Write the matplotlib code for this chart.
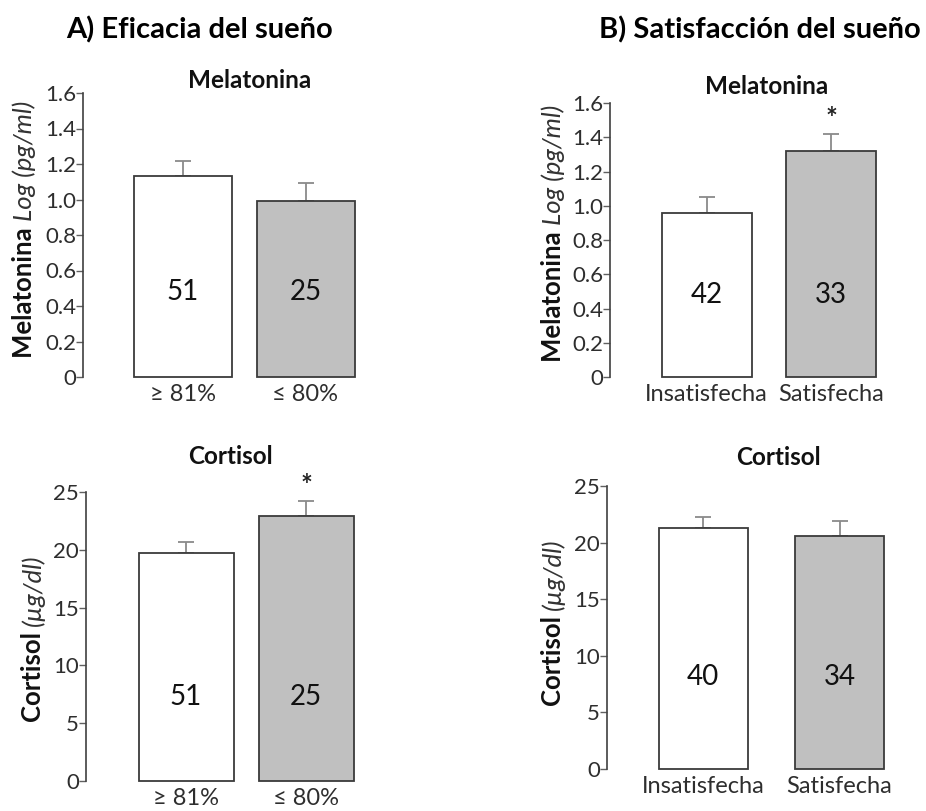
import matplotlib
matplotlib.use("Agg")
import matplotlib.pyplot as plt

plt.rcParams['font.family'] = ['Lato', 'DejaVu Sans']

W, H = 926, 811

# ---- data ----
eficacia_groups = ["\u2265 81%", "\u2264 80%"]
satisfaccion_groups = ["Insatisfecha", "Satisfecha"]

mel_eficacia = [1.13, 0.99]
mel_eficacia_err = [0.085, 0.105]
mel_eficacia_n = ["51", "25"]
mel_eficacia_sig = ["", ""]

cort_eficacia = [19.7, 22.95]
cort_eficacia_err = [1.0, 1.3]
cort_eficacia_n = ["51", "25"]
cort_eficacia_sig = ["", "*"]

mel_satisf = [0.96, 1.32]
mel_satisf_err = [0.09, 0.10]
mel_satisf_n = ["42", "33"]
mel_satisf_sig = ["", "*"]

cort_satisf = [21.3, 20.6]
cort_satisf_err = [1.0, 1.3]
cort_satisf_n = ["40", "34"]
cort_satisf_sig = ["", ""]

mel_ticks = [0, 0.2, 0.4, 0.6, 0.8, 1.0, 1.2, 1.4, 1.6]
mel_ticklabels = ["0", "0.2", "0.4", "0.6", "0.8", "1.0", "1.2", "1.4", "1.6"]
cort_ticks = [0, 5, 10, 15, 20, 25]
cort_ticklabels = ["0", "5", "10", "15", "20", "25"]

bar_colors = ["white", "#c0c0c0"]
edge = "#3a3a3a"
text_dark = "#2e2e2e"

fig = plt.figure(figsize=(W / 100, H / 100), dpi=100)


def make_axes(left, bottom, top, right, c1, c2):
    """Axes given in pixel coordinates; group centres c1, c2 map to x = 0, 1."""
    ax = fig.add_axes([left / W, 1 - bottom / H, (right - left) / W, (bottom - top) / H])
    span = c2 - c1
    ax.set_xlim((left - c1) / span, (right - c1) / span)
    return ax, span


def panel(ax, span, bar_px, groups, values, errs, ns, sigs, ymax, ticks, ticklabels,
          xlabel_pad, n_frac):
    x = [0, 1]
    width = bar_px / span
    ax.errorbar(x, values, yerr=[[0, 0], errs], fmt="none", ecolor="#8a8a8a",
                elinewidth=1.3, capsize=6, capthick=1.3, zorder=1)
    ax.bar(x, values, width=width, color=bar_colors, edgecolor=edge,
           linewidth=1.3, zorder=2, clip_on=False)
    ax.set_ylim(0, ymax)
    ax.set_yticks(ticks)
    ax.set_yticklabels(ticklabels)
    for s in ["top", "right", "bottom"]:
        ax.spines[s].set_visible(False)
    ax.spines["left"].set_color("#404040")
    ax.spines["left"].set_linewidth(1.2)
    ax.tick_params(axis="y", direction="out", length=5, width=1.0, color="#606060",
                   labelsize=16, labelcolor=text_dark, pad=0)
    ax.tick_params(axis="x", length=0, labelsize=17, labelcolor=text_dark, pad=xlabel_pad)
    ax.set_xticks(x)
    ax.set_xticklabels(groups)
    for xi, v, n in zip(x, values, ns):
        ax.text(xi, ymax * n_frac, n, ha="center", va="center", fontsize=20, color="#111111")
    for xi, v, e, s in zip(x, values, errs, sigs):
        if s:
            ax.text(xi, v + e + ymax * 0.005, s, ha="center", va="bottom",
                    fontsize=20, fontweight="bold", color="#222222")


def fig_text(xp, yp, s, **kw):
    return fig.text(xp / W, 1 - yp / H, s, **kw)


def two_part_ylabel(xp, yc, bold, italic, size):
    r = fig.canvas.get_renderer()
    t1 = fig_text(xp, yc, bold, rotation=90, fontsize=size, fontweight="bold",
                  ha="center", va="bottom", color="#111111")
    t2 = fig_text(xp, yc, italic, rotation=90, fontsize=size, style="italic",
                  ha="center", va="bottom", color="#333333")
    h1 = t1.get_window_extent(r).height
    h2 = t2.get_window_extent(r).height
    total = h1 + h2
    start = yc + total / 2
    t1.set_position((xp / W, 1 - start / H))
    t2.set_position((xp / W, 1 - (start - h1) / H))


# A) Eficacia del sueño
axA1, spA1 = make_axes(83, 377, 93, 380, 182.5, 305.5)
panel(axA1, spA1, 98, eficacia_groups, mel_eficacia, mel_eficacia_err, mel_eficacia_n,
      mel_eficacia_sig, 1.6, mel_ticks, mel_ticklabels, 5, 0.3)

axA2, spA2 = make_axes(86, 781, 492, 380, 186, 306)
panel(axA2, spA2, 95, eficacia_groups, cort_eficacia, cort_eficacia_err, cort_eficacia_n,
      cort_eficacia_sig, 25, cort_ticks, cort_ticklabels, 5, 0.29)

# B) Satisfacción del sueño
axB1, spB1 = make_axes(610, 377, 103, 900, 706.5, 831)
panel(axB1, spB1, 90, satisfaccion_groups, mel_satisf, mel_satisf_err, mel_satisf_n,
      mel_satisf_sig, 1.6, mel_ticks, mel_ticklabels, 5, 0.3)

axB2, spB2 = make_axes(607, 769, 486, 900, 703, 839.5)
panel(axB2, spB2, 89, satisfaccion_groups, cort_satisf, cort_satisf_err, cort_satisf_n,
      cort_satisf_sig, 25, cort_ticks, cort_ticklabels, 5, 0.325)

# headings
fig_text(200, 30, "A) Eficacia del sueño", ha="center", va="center",
         fontsize=21, fontweight="bold", color="black")
fig_text(760, 30, "B) Satisfacción del sueño", ha="center", va="center",
         fontsize=21, fontweight="bold", color="black")

sub_size = 17.5
fig_text(250, 80, "Melatonina", ha="center", va="center", fontsize=sub_size,
         fontweight="bold", color="#111111")
fig_text(230, 456, "Cortisol", ha="center", va="center", fontsize=sub_size,
         fontweight="bold", color="#111111")
fig_text(767, 87, "Melatonina", ha="center", va="center", fontsize=sub_size,
         fontweight="bold", color="#111111")
fig_text(778, 457, "Cortisol", ha="center", va="center", fontsize=sub_size,
         fontweight="bold", color="#111111")

two_part_ylabel(24, 229, "Melatonina ", "Log (pg/ml)", 18.5)
two_part_ylabel(33, 638, "Cortisol ", "(\u00b5g/dl)", 18.5)
two_part_ylabel(553, 233, "Melatonina ", "Log (pg/ml)", 18.5)
two_part_ylabel(553, 622, "Cortisol ", "(\u00b5g/dl)", 18.5)

fig.savefig("out.png", dpi=100, facecolor="white")
